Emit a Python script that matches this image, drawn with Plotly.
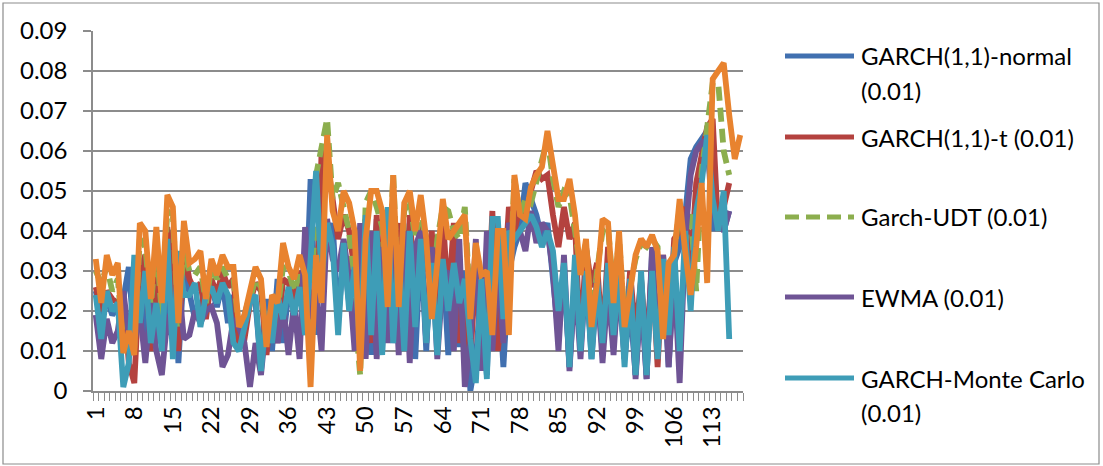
import plotly.graph_objects as go

# ---------------- data ----------------
x_index = list(range(1, 119))
x_tick_values = [1, 8, 15, 22, 29, 36, 43, 50, 57, 64, 71, 78, 85, 92, 99, 106, 113]
x_tick_labels = [str(v) for v in x_tick_values]
y_tick_values = [0, 0.01, 0.02, 0.03, 0.04, 0.05, 0.06, 0.07, 0.08, 0.09]
y_tick_labels = ["0", "0.01", "0.02", "0.03", "0.04", "0.05", "0.06", "0.07", "0.08", "0.09"]

garch_normal = [
    0.025, 0.018, 0.023, 0.019, 0.021, 0.023, 0.031, 0.012, 0.030, 0.011,
    0.030, 0.012, 0.033, 0.014, 0.038, 0.007, 0.031, 0.025, 0.018, 0.022,
    0.022, 0.026, 0.021, 0.027, 0.017, 0.024, 0.010, 0.019, 0.024, 0.022,
    0.006, 0.023, 0.010, 0.028, 0.012, 0.025, 0.020, 0.028, 0.014, 0.053,
    0.014, 0.048, 0.035, 0.042, 0.018, 0.034, 0.022, 0.038, 0.009, 0.043,
    0.009, 0.043, 0.010, 0.040, 0.012, 0.036, 0.014, 0.042, 0.008, 0.038,
    0.010, 0.039, 0.012, 0.034, 0.009, 0.033, 0.011, 0.030, 0.000, 0.008,
    0.026, 0.004, 0.043, 0.030, 0.006, 0.030, 0.036, 0.040, 0.052, 0.048,
    0.044, 0.038, 0.042, 0.028, 0.014, 0.030, 0.006, 0.028, 0.012, 0.032,
    0.008, 0.026, 0.010, 0.030, 0.012, 0.026, 0.008, 0.022, 0.004, 0.028,
    0.003, 0.035, 0.010, 0.030, 0.006, 0.032, 0.036, 0.044, 0.058, 0.061,
    0.063, 0.065, 0.040, 0.047, 0.040, 0.045, None, None,
]

garch_t = [
    0.026, 0.020, 0.025, 0.023, 0.022, 0.024, 0.007, 0.002, 0.030, 0.034,
    0.010, 0.033, 0.015, 0.041, 0.030, 0.010, 0.035, 0.028, 0.025, 0.027,
    0.018, 0.028, 0.024, 0.030, 0.026, 0.028, 0.012, 0.013, 0.022, 0.027,
    0.025, 0.009, 0.023, 0.012, 0.028, 0.027, 0.022, 0.030, 0.024, 0.020,
    0.018, 0.060, 0.058, 0.047, 0.038, 0.044, 0.040, 0.030, 0.028, 0.043,
    0.012, 0.044, 0.018, 0.040, 0.015, 0.042, 0.010, 0.044, 0.024, 0.042,
    0.030, 0.040, 0.016, 0.044, 0.022, 0.042, 0.012, 0.026, 0.008, 0.030,
    0.018, 0.014, 0.045, 0.010, 0.024, 0.046, 0.040, 0.046, 0.044, 0.050,
    0.055, 0.053, 0.054, 0.044, 0.036, 0.046, 0.038, 0.042, 0.010, 0.036,
    0.026, 0.032, 0.012, 0.036, 0.028, 0.034, 0.010, 0.030, 0.014, 0.028,
    0.010, 0.032, 0.006, 0.034, 0.012, 0.038, 0.040, 0.046, 0.030, 0.052,
    0.060, 0.066, 0.068, 0.040, 0.046, 0.052, None, None,
]

garch_udt = [
    0.030, 0.027, 0.031, 0.025, 0.028, 0.012, 0.010, 0.011, 0.038, 0.036,
    0.021, 0.037, 0.019, 0.045, 0.044, 0.016, 0.036, 0.030, 0.029, 0.031,
    0.022, 0.031, 0.028, 0.031, 0.028, 0.028, 0.016, 0.018, 0.023, 0.028,
    0.026, 0.012, 0.022, 0.020, 0.031, 0.030, 0.025, 0.029, 0.026, 0.014,
    0.054, 0.062, 0.068, 0.048, 0.052, 0.046, 0.040, 0.020, 0.004, 0.047,
    0.050, 0.046, 0.041, 0.022, 0.054, 0.020, 0.045, 0.048, 0.038, 0.046,
    0.036, 0.021, 0.038, 0.046, 0.045, 0.040, 0.038, 0.046, 0.020, 0.034,
    0.028, 0.024, 0.020, 0.036, 0.038, 0.022, 0.053, 0.044, 0.048, 0.047,
    0.052, 0.057, 0.063, 0.053, 0.046, 0.050, 0.049, 0.040, 0.030, 0.037,
    0.018, 0.030, 0.040, 0.041, 0.024, 0.038, 0.018, 0.026, 0.033, 0.037,
    0.036, 0.038, 0.036, 0.015, 0.030, 0.034, 0.046, 0.037, 0.045, 0.025,
    0.055, 0.066, 0.077, 0.077, 0.060, 0.054, None, None,
]

ewma = [
    0.019, 0.008, 0.018, 0.012, 0.015, 0.025, 0.014, 0.012, 0.020, 0.007,
    0.022, 0.010, 0.004, 0.018, 0.020, 0.028, 0.013, 0.014, 0.020, 0.017,
    0.020, 0.021, 0.017, 0.006, 0.009, 0.018, 0.016, 0.012, 0.001, 0.012,
    0.004, 0.018, 0.020, 0.012, 0.022, 0.009, 0.022, 0.008, 0.041, 0.018,
    0.025, 0.010, 0.043, 0.033, 0.030, 0.038, 0.028, 0.010, 0.042, 0.008,
    0.040, 0.008, 0.036, 0.012, 0.038, 0.009, 0.040, 0.007, 0.036, 0.040,
    0.012, 0.036, 0.008, 0.028, 0.030, 0.010, 0.038, 0.001, 0.012, 0.038,
    0.005, 0.040, 0.010, 0.032, 0.012, 0.042, 0.038, 0.040, 0.035, 0.045,
    0.037, 0.042, 0.040, 0.030, 0.010, 0.034, 0.005, 0.028, 0.008, 0.030,
    0.010, 0.028, 0.007, 0.026, 0.009, 0.030, 0.008, 0.028, 0.003, 0.024,
    0.003, 0.036, 0.012, 0.034, 0.006, 0.030, 0.002, 0.038, 0.054, 0.060,
    0.062, 0.063, 0.045, 0.042, 0.040, 0.045, None, None,
]

garch_mc = [
    0.024, 0.013, 0.025, 0.020, 0.022, 0.001, 0.007, 0.034, 0.017, 0.030,
    0.012, 0.022, 0.010, 0.038, 0.008, 0.035, 0.024, 0.024, 0.027, 0.016,
    0.024, 0.026, 0.022, 0.027, 0.024, 0.012, 0.010, 0.016, 0.022, 0.024,
    0.005, 0.020, 0.012, 0.024, 0.018, 0.026, 0.019, 0.026, 0.014, 0.033,
    0.055, 0.028, 0.042, 0.036, 0.014, 0.037, 0.020, 0.031, 0.011, 0.044,
    0.014, 0.040, 0.009, 0.046, 0.012, 0.036, 0.010, 0.040, 0.016, 0.038,
    0.012, 0.032, 0.009, 0.033, 0.020, 0.032, 0.022, 0.028, 0.013, 0.002,
    0.028, 0.003, 0.043, 0.043, 0.018, 0.040, 0.038, 0.040, 0.042, 0.044,
    0.041, 0.036, 0.040, 0.035, 0.020, 0.032, 0.006, 0.034, 0.010, 0.030,
    0.008, 0.028, 0.012, 0.032, 0.014, 0.030, 0.006, 0.028, 0.004, 0.030,
    0.004, 0.030, 0.008, 0.033, 0.014, 0.036, 0.010, 0.040, 0.020, 0.045,
    0.052, 0.064, 0.048, 0.040, 0.050, 0.013, None, None,
]

sixth_series = [
    0.033, 0.022, 0.034, 0.029, 0.032, 0.0095, 0.015, 0.009, 0.042, 0.040,
    0.023, 0.041, 0.022, 0.049, 0.046, 0.017, 0.0425, 0.032, 0.033, 0.035,
    0.023, 0.033, 0.029, 0.034, 0.031, 0.031, 0.016, 0.019, 0.025, 0.031,
    0.028, 0.011, 0.024, 0.022, 0.037, 0.031, 0.028, 0.034, 0.029, 0.001,
    0.034, 0.022, 0.064, 0.045, 0.040, 0.050, 0.047, 0.040, 0.005, 0.038,
    0.050, 0.050, 0.045, 0.021, 0.054, 0.021, 0.047, 0.050, 0.040, 0.049,
    0.038, 0.018, 0.032, 0.048, 0.038, 0.040, 0.042, 0.044, 0.018, 0.037,
    0.029, 0.030, 0.014, 0.040, 0.040, 0.014, 0.054, 0.044, 0.043, 0.051,
    0.054, 0.056, 0.065, 0.056, 0.048, 0.048, 0.053, 0.044, 0.029, 0.038,
    0.016, 0.027, 0.043, 0.042, 0.022, 0.040, 0.016, 0.025, 0.034, 0.038,
    0.036, 0.039, 0.035, 0.013, 0.032, 0.034, 0.048, 0.035, 0.024, 0.036,
    0.052, 0.027, 0.078, 0.080, 0.082, 0.069, 0.058, 0.064,
]

series_names = [
    "GARCH(1,1)-normal (0.01)",
    "GARCH(1,1)-t (0.01)",
    "Garch-UDT (0.01)",
    "EWMA (0.01)",
    "GARCH-Monte Carlo (0.01)",
    "Series 6",
]
series_values = [garch_normal, garch_t, garch_udt, ewma, garch_mc, sixth_series]
series_colors = ["#4170B0", "#B4423F", "#8CAE4E", "#6F5495", "#3E9DB7", "#E8832F"]
series_dash = ["solid", "solid", "14px,7px", "solid", "solid", "solid"]

legend_lines = [
    ["GARCH(1,1)-normal", "(0.01)"],
    ["GARCH(1,1)-t (0.01)"],
    ["Garch-UDT (0.01)"],
    ["EWMA (0.01)"],
    ["GARCH-Monte Carlo", "(0.01)"],
]
legend_y_px = [56, 137, 217, 297, 378]

# ---------------- layout geometry ----------------
W, H = 1103, 466
L, R, T, B = 93, 743, 31, 391
FONT = "Lato"
FS = 24
GRID = "#8C8C8C"


def px_to_paper(px, py):
    return (px - L) / (R - L), (B - py) / (B - T)


fig = go.Figure()
for name, vals, col, dash in zip(series_names, series_values, series_colors, series_dash):
    fig.add_trace(go.Scatter(
        x=x_index, y=vals, mode="lines", name=name,
        line=dict(color=col, width=5.8, dash=dash),
        showlegend=False, hoverinfo="x+y+name",
    ))

fig.update_layout(
    width=W, height=H,
    margin=dict(l=L, r=W - R, t=T, b=H - B, pad=0, autoexpand=False),
    paper_bgcolor="white", plot_bgcolor="white",
    font=dict(family=FONT, size=FS, color="#000000"),
)

fig.update_xaxes(
    range=[0.5, 118.5], automargin=False,
    tickmode="array", tickvals=x_tick_values, ticktext=x_tick_labels,
    tickangle=-90,
    ticks="outside", ticklen=4, tickcolor="rgba(0,0,0,0)",
    ticklabelstandoff=0,
    minor=dict(tick0=0.5, dtick=1, ticks="outside", ticklen=8, tickcolor=GRID, tickwidth=1.3),
    showline=True, linecolor=GRID, linewidth=1.5,
    showgrid=False, zeroline=False,
    tickfont=dict(family=FONT, size=FS),
)
fig.update_yaxes(
    range=[0, 0.09], automargin=False,
    tickmode="array", tickvals=y_tick_values, ticktext=y_tick_labels,
    ticks="outside", ticklen=8, tickcolor=GRID, tickwidth=1.5,
    ticklabelstandoff=11,
    showline=True, linecolor=GRID, linewidth=1.5,
    showgrid=True, gridcolor=GRID, gridwidth=1.5,
    zeroline=False,
    tickfont=dict(family=FONT, size=FS),
)

shapes = []
annotations = []
# outer chart border
x0, y0 = px_to_paper(3, 464)
x1, y1 = px_to_paper(1099, 3)
shapes.append(dict(type="rect", xref="paper", yref="paper", x0=x0, y0=y0, x1=x1, y1=y1,
                   line=dict(color="#8C8C8C", width=1.2), fillcolor="rgba(0,0,0,0)", layer="below"))

# custom legend
for lines, ypx, col, dash in zip(legend_lines, legend_y_px, series_colors[:5], series_dash[:5]):
    lx0, ly = px_to_paper(785, ypx)
    lx1, _ = px_to_paper(854, ypx)
    shapes.append(dict(type="line", xref="paper", yref="paper", x0=lx0, y0=ly, x1=lx1, y1=ly,
                       line=dict(color=col, width=5, dash=dash)))
    for k, txt in enumerate(lines):
        tx, ty = px_to_paper(859, ypx + k * 34)
        annotations.append(dict(xref="paper", yref="paper", x=tx, y=ty, text=txt,
                                showarrow=False, xanchor="left", yanchor="middle",
                                font=dict(family=FONT, size=FS, color="#000000")))

fig.update_layout(shapes=shapes, annotations=annotations)
fig.write_html(
    "out.html",
    config={"displayModeBar": False},
    post_script="document.body.style.margin='0';document.body.style.padding='0';",
)
